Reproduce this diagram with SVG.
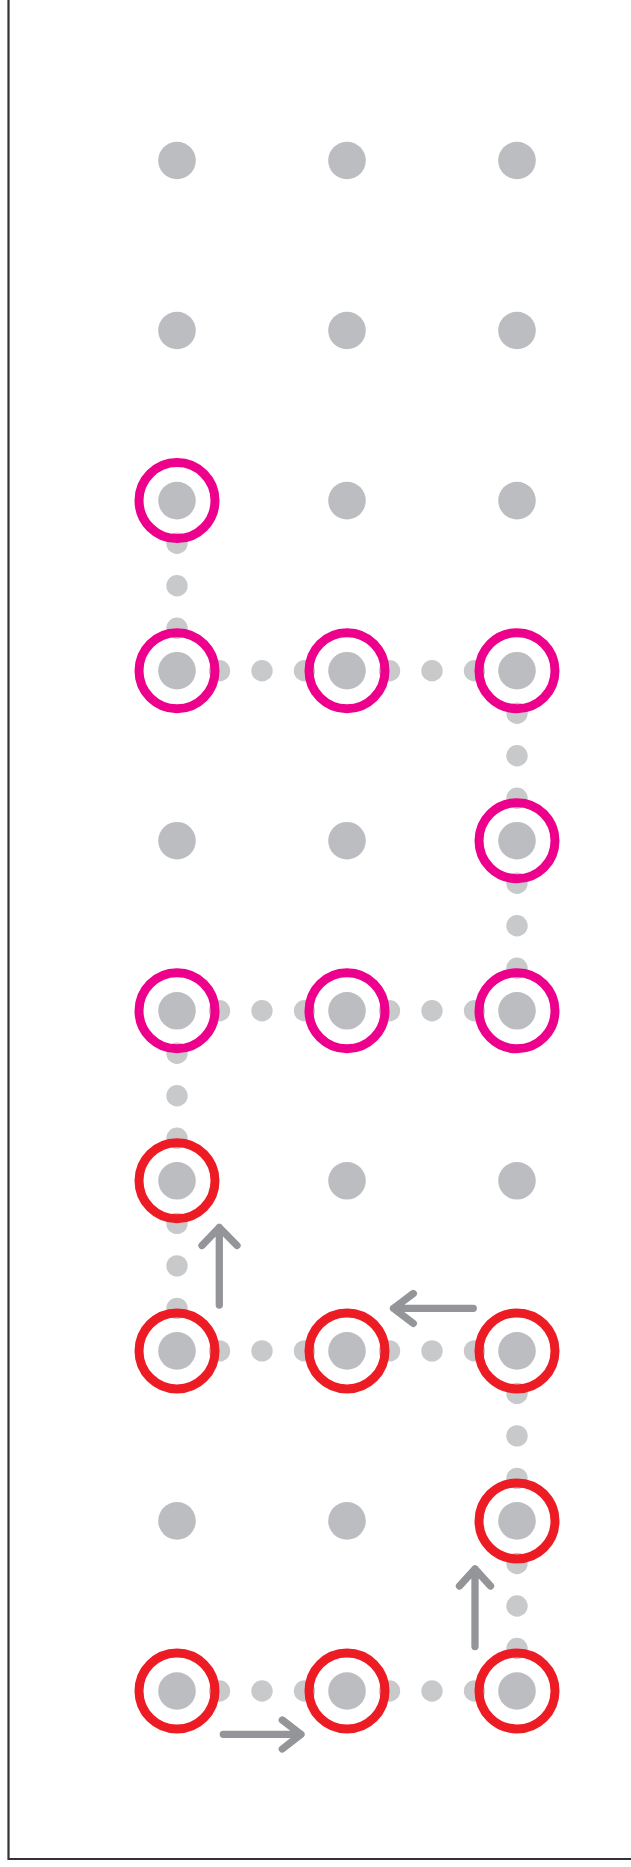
<svg xmlns="http://www.w3.org/2000/svg" width="631" height="1867" viewBox="0 0 631 1867">
<style>
.dot{fill:#bcbdc0}
.sd{fill:#c8c9cb}
.rm{fill:none;stroke:#ec008c;stroke-width:9}
.rr{fill:none;stroke:#ed1c24;stroke-width:9}
.ar{fill:none;stroke:#939598;stroke-width:7.3;stroke-linecap:round;stroke-linejoin:round}
</style>
<rect width="631" height="1867" fill="#ffffff"/>
<path d="M8.5,0 V1859 H631" fill="none" stroke="#333333" stroke-width="2.2"/>
<g id="grid">
<circle class="dot" cx="177" cy="160.5" r="18.8"/><circle class="dot" cx="347" cy="160.5" r="18.8"/><circle class="dot" cx="517" cy="160.5" r="18.8"/>
<circle class="dot" cx="177" cy="330.5" r="18.8"/><circle class="dot" cx="347" cy="330.5" r="18.8"/><circle class="dot" cx="517" cy="330.5" r="18.8"/>
<circle class="dot" cx="177" cy="500.6" r="18.8"/><circle class="dot" cx="347" cy="500.6" r="18.8"/><circle class="dot" cx="517" cy="500.6" r="18.8"/>
<circle class="dot" cx="177" cy="670.7" r="18.8"/><circle class="dot" cx="347" cy="670.7" r="18.8"/><circle class="dot" cx="517" cy="670.7" r="18.8"/>
<circle class="dot" cx="177" cy="840.7" r="18.8"/><circle class="dot" cx="347" cy="840.7" r="18.8"/><circle class="dot" cx="517" cy="840.7" r="18.8"/>
<circle class="dot" cx="177" cy="1010.8" r="18.8"/><circle class="dot" cx="347" cy="1010.8" r="18.8"/><circle class="dot" cx="517" cy="1010.8" r="18.8"/>
<circle class="dot" cx="177" cy="1180.8" r="18.8"/><circle class="dot" cx="347" cy="1180.8" r="18.8"/><circle class="dot" cx="517" cy="1180.8" r="18.8"/>
<circle class="dot" cx="177" cy="1350.9" r="18.8"/><circle class="dot" cx="347" cy="1350.9" r="18.8"/><circle class="dot" cx="517" cy="1350.9" r="18.8"/>
<circle class="dot" cx="177" cy="1520.9" r="18.8"/><circle class="dot" cx="347" cy="1520.9" r="18.8"/><circle class="dot" cx="517" cy="1520.9" r="18.8"/>
<circle class="dot" cx="177" cy="1691" r="18.8"/><circle class="dot" cx="347" cy="1691" r="18.8"/><circle class="dot" cx="517" cy="1691" r="18.8"/>
</g>
<g id="connectors">
<circle class="sd" cx="177" cy="543.2" r="10.7"/><circle class="sd" cx="177" cy="585.7" r="10.7"/><circle class="sd" cx="177" cy="628.2" r="10.7"/>
<circle class="sd" cx="219.5" cy="670.7" r="10.7"/><circle class="sd" cx="262" cy="670.7" r="10.7"/><circle class="sd" cx="304.5" cy="670.7" r="10.7"/>
<circle class="sd" cx="389.5" cy="670.7" r="10.7"/><circle class="sd" cx="432" cy="670.7" r="10.7"/><circle class="sd" cx="474.5" cy="670.7" r="10.7"/>
<circle class="sd" cx="517" cy="713.2" r="10.7"/><circle class="sd" cx="517" cy="755.7" r="10.7"/><circle class="sd" cx="517" cy="798.2" r="10.7"/>
<circle class="sd" cx="517" cy="883.3" r="10.7"/><circle class="sd" cx="517" cy="925.8" r="10.7"/><circle class="sd" cx="517" cy="968.3" r="10.7"/>
<circle class="sd" cx="219.5" cy="1010.8" r="10.7"/><circle class="sd" cx="262" cy="1010.8" r="10.7"/><circle class="sd" cx="304.5" cy="1010.8" r="10.7"/>
<circle class="sd" cx="389.5" cy="1010.8" r="10.7"/><circle class="sd" cx="432" cy="1010.8" r="10.7"/><circle class="sd" cx="474.5" cy="1010.8" r="10.7"/>
<circle class="sd" cx="177" cy="1053.3" r="10.7"/><circle class="sd" cx="177" cy="1095.8" r="10.7"/><circle class="sd" cx="177" cy="1138.3" r="10.7"/>
<circle class="sd" cx="177" cy="1223.4" r="10.7"/><circle class="sd" cx="177" cy="1265.9" r="10.7"/><circle class="sd" cx="177" cy="1308.4" r="10.7"/>
<circle class="sd" cx="219.5" cy="1350.9" r="10.7"/><circle class="sd" cx="262" cy="1350.9" r="10.7"/><circle class="sd" cx="304.5" cy="1350.9" r="10.7"/>
<circle class="sd" cx="389.5" cy="1350.9" r="10.7"/><circle class="sd" cx="432" cy="1350.9" r="10.7"/><circle class="sd" cx="474.5" cy="1350.9" r="10.7"/>
<circle class="sd" cx="517" cy="1393.4" r="10.7"/><circle class="sd" cx="517" cy="1435.9" r="10.7"/><circle class="sd" cx="517" cy="1478.4" r="10.7"/>
<circle class="sd" cx="517" cy="1563.5" r="10.7"/><circle class="sd" cx="517" cy="1606" r="10.7"/><circle class="sd" cx="517" cy="1648.5" r="10.7"/>
<circle class="sd" cx="219.5" cy="1691" r="10.7"/><circle class="sd" cx="262" cy="1691" r="10.7"/><circle class="sd" cx="304.5" cy="1691" r="10.7"/>
<circle class="sd" cx="389.5" cy="1691" r="10.7"/><circle class="sd" cx="432" cy="1691" r="10.7"/><circle class="sd" cx="474.5" cy="1691" r="10.7"/>
<path class="ar" d="M219.3,1305 V1227.5 M202,1245.5 L219.3,1227.5 L237,1245.5"/>
<path class="ar" d="M473.3,1308.3 H393.5 M413.3,1293.5 L393.5,1308.3 L413.3,1323.3"/>
<path class="ar" d="M223.3,1734.3 H301 M282.3,1720 L301,1734.3 L282.3,1749"/>
<path class="ar" d="M475,1646.5 V1569 M459.5,1586 L475,1569 L490.5,1586"/>
</g>
<g id="ring-m-0-2"><circle class="rm" cx="177" cy="500.6" r="38"/></g>
<g id="ring-m-0-3"><circle class="rm" cx="177" cy="670.7" r="38"/></g>
<g id="ring-m-1-3"><circle class="rm" cx="347" cy="670.7" r="38"/></g>
<g id="ring-m-2-3"><circle class="rm" cx="517" cy="670.7" r="38"/></g>
<g id="ring-m-2-4"><circle class="rm" cx="517" cy="840.7" r="38"/></g>
<g id="ring-m-0-5"><circle class="rm" cx="177" cy="1010.8" r="38"/></g>
<g id="ring-m-1-5"><circle class="rm" cx="347" cy="1010.8" r="38"/></g>
<g id="ring-m-2-5"><circle class="rm" cx="517" cy="1010.8" r="38"/></g>
<g id="ring-r-0-6"><circle class="rr" cx="177" cy="1180.8" r="38"/></g>
<g id="ring-r-0-7"><circle class="rr" cx="177" cy="1350.9" r="38"/></g>
<g id="ring-r-1-7"><circle class="rr" cx="347" cy="1350.9" r="38"/></g>
<g id="ring-r-2-7"><circle class="rr" cx="517" cy="1350.9" r="38"/></g>
<g id="ring-r-2-8"><circle class="rr" cx="517" cy="1520.9" r="38"/></g>
<g id="ring-r-0-9"><circle class="rr" cx="177" cy="1691" r="38"/></g>
<g id="ring-r-1-9"><circle class="rr" cx="347" cy="1691" r="38"/></g>
<g id="ring-r-2-9"><circle class="rr" cx="517" cy="1691" r="38"/></g>
</svg>
